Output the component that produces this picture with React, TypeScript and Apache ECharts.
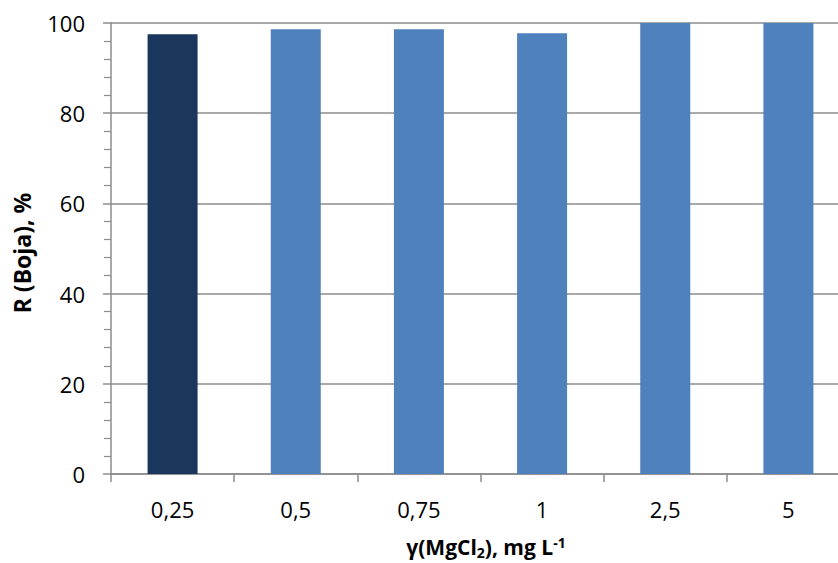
import React, { useEffect, useRef } from "react";
import * as echarts from "echarts";

const categories = ["0,25", "0,5", "0,75", "1", "2,5", "5"];
const values = [97.5, 98.6, 98.6, 97.7, 100, 100];
const barColors = ["#1b365d", "#4f81bd", "#4f81bd", "#4f81bd", "#4f81bd", "#4f81bd"];
const yTitle = "R (Boja), %";

export default function App() {
  const ref = useRef<HTMLDivElement>(null);
  useEffect(() => {
    if (!ref.current) return;
    const chart = echarts.init(ref.current, undefined, { renderer: "svg" });
    const font = "'Open Sans', 'Liberation Sans', sans-serif";
    chart.setOption({
      animation: false,
      grid: { left: 111, width: 739, top: 23, height: 451, containLabel: false, outerBoundsMode: "none" },
      xAxis: {
        type: "category",
        data: categories,
        axisLine: { lineStyle: { color: "#8c8c8c", width: 1.5 } },
        axisTick: { show: true, alignWithLabel: false, length: 8, lineStyle: { color: "#8c8c8c", width: 1.5 } },
        axisLabel: { color: "#000", fontSize: 22, fontFamily: font, margin: 24 },
      },
      yAxis: {
        type: "value",
        min: 0,
        max: 100,
        interval: 20,
        axisLine: { show: true, lineStyle: { color: "#8c8c8c", width: 1.5 } },
        axisTick: { show: true, length: 8, inside: false, lineStyle: { color: "#8c8c8c", width: 1.5 } },
        minorTick: { show: true, splitNumber: 5, length: 7, lineStyle: { color: "#8c8c8c", width: 1.2 } },
        splitLine: { show: true, lineStyle: { color: "#8c8c8c", width: 1.5 } },
        axisLabel: { color: "#000", fontSize: 22, fontFamily: font, margin: 26 },
      },
      series: [
        {
          type: "bar",
          data: values.map((v, i) => ({ value: v, itemStyle: { color: barColors[i] } })),
          barWidth: 50,
        },
      ],
      graphic: [
        {
          type: "text",
          x: 22,
          y: 253,
          rotation: Math.PI / 2,
          style: {
            text: yTitle,
            font: `bold 23px ${font}`,
            fill: "#000",
            align: "center",
            verticalAlign: "middle",
          },
        },
        {
          type: "text",
          x: 486,
          y: 547,
          style: {
            text: "{n|γ(MgCl}{sub|2}{n|), mg L}{sup|-1}",
            rich: {
              n: { font: `bold 21px ${font}`, fill: "#000" },
              sub: { font: `bold 14px ${font}`, fill: "#000", padding: [10, 0, 0, 0] },
              sup: { font: `bold 14px ${font}`, fill: "#000", padding: [0, 0, 10, 0] },
            },
            align: "center",
            verticalAlign: "middle",
          },
        },
      ],
    });
    return () => chart.dispose();
  }, []);
  return <div ref={ref} style={{ width: 838, height: 563, position: "absolute", left: 0, top: 0 }} />;
}
